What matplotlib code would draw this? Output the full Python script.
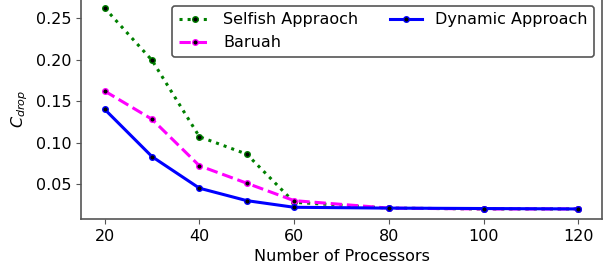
import matplotlib
matplotlib.use("Agg")
import matplotlib.pyplot as plt

processors = [20, 30, 40, 50, 60, 80, 100, 120]
selfish = [0.262, 0.199, 0.107, 0.086, 0.028, 0.021, 0.020, 0.020]
baruah = [0.162, 0.128, 0.072, 0.051, 0.030, 0.021, 0.020, 0.020]
dynamic = [0.140, 0.083, 0.045, 0.030, 0.022, 0.021, 0.0205, 0.020]

plt.rcParams['font.size'] = 11.5

fig = plt.figure(figsize=(6.1, 2.72), dpi=100)
ax = fig.add_axes([0.1328, 0.1949, 0.854, 0.8125])

ax.plot(processors, selfish, linestyle=':', color='green', linewidth=2.2,
        marker='o', markersize=4, markerfacecolor='black', markeredgecolor='green',
        label='Selfish Appraoch')
ax.plot(processors, baruah, linestyle='--', color='magenta', linewidth=2.2,
        marker='o', markersize=4, markerfacecolor='black', markeredgecolor='magenta',
        label='Baruah')
ax.plot(processors, dynamic, linestyle='-', color='blue', linewidth=2.2,
        marker='o', markersize=4, markerfacecolor='black', markeredgecolor='blue',
        label='Dynamic Approach')

ax.set_xlabel('Number of Processors')
ax.set_ylabel('$C_{drop}$')
ax.set_xticks([20, 40, 60, 80, 100, 120])
ax.set_yticks([0.05, 0.10, 0.15, 0.20, 0.25])

for s in ax.spines.values():
    s.set_color('#555555')
    s.set_linewidth(1.2)
ax.tick_params(color='#555555')

leg = ax.legend(ncol=2, loc='upper right', framealpha=1)
leg.get_frame().set_edgecolor('#555555')
leg.get_frame().set_linewidth(1.2)

fig.savefig('out.png', dpi=100)
